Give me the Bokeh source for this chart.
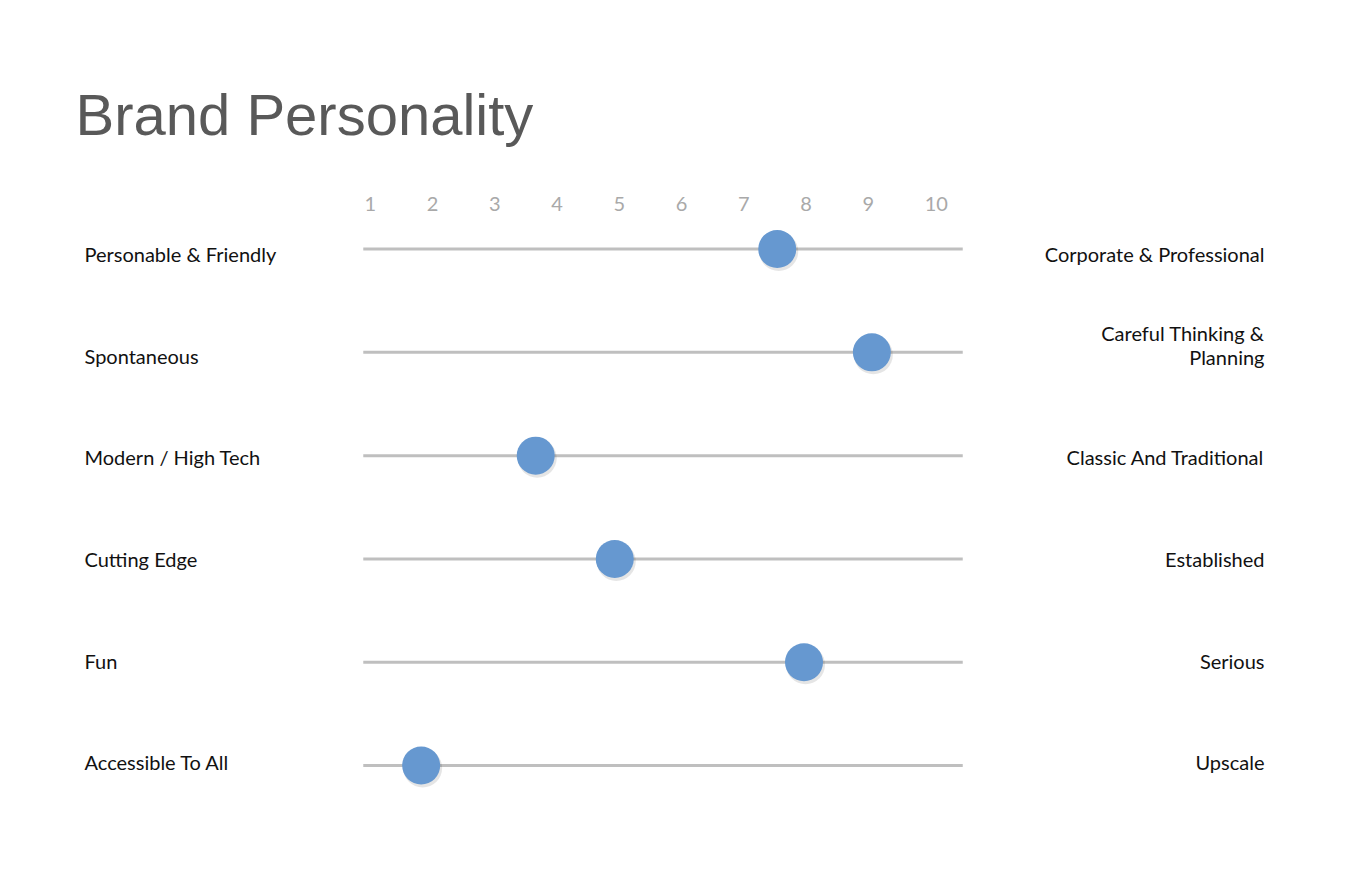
from bokeh.plotting import figure
from bokeh.models import Range1d
from bokeh.embed import file_html
from bokeh.resources import INLINE
from bokeh.core.properties import value

# ---- data ----
title = "Brand Personality"
ticks = [1, 2, 3, 4, 5, 6, 7, 8, 9, 10]
tick_labels = [str(t) for t in ticks]
left_labels = ["Personable & Friendly", "Spontaneous", "Modern / High Tech",
               "Cutting Edge", "Fun", "Accessible To All"]
right_labels = ["Corporate & Professional", "Careful Thinking &\nPlanning",
                "Classic And Traditional", "Established", "Serious", "Upscale"]
scores = [7.55, 9.07, 3.67, 4.94, 7.98, 1.83]
scale_min, scale_max = 0.9, 10.53

# ---- layout helpers (canvas pixel -> data) ----
W, H = 1342, 872
XS = 62.25          # px per scale unit
YS = 103.29         # px per row
X0 = 1 - 369 / XS   # data x at canvas left
Y0 = -248.56 / YS   # data y at canvas top
def dx(px): return X0 + px / XS
def dy(py): return Y0 + py / YS

rows = list(range(len(left_labels)))

p = figure(width=W, height=H, output_backend="svg", toolbar_location=None,
           x_range=Range1d(X0, X0 + W / XS), y_range=Range1d(Y0 + H / YS, Y0),
           x_axis_location=None, y_axis_location=None, min_border=0)
p.grid.visible = False
p.outline_line_color = None
p.background_fill_color = "white"
p.border_fill_color = "white"

# title
p.text(x=[dx(75)], y=[dy(114)], text=[title], text_font=value("Liberation Sans"),
       text_font_size="58px", text_color="#595959", text_baseline="alphabetic",
       text_align="left")

# scale numbers
p.text(x=ticks, y=[dy(203.5)] * len(ticks), text=tick_labels, text_font=value("Lato"),
       text_font_size="20px", text_color="#a9a9a9", text_baseline="middle",
       text_align="left", x_offset=-5)

# track lines
p.segment(x0=[scale_min] * len(rows), x1=[scale_max] * len(rows), y0=rows, y1=rows,
          line_color="#bfbfbf", line_width=3)

# dot shadows and dots
p.scatter(x=[s + 1.5 / XS for s in scores], y=[r + 2.5 / YS for r in rows], size=39,
          fill_color="#000000", fill_alpha=0.10, line_color=None)
p.scatter(x=scores, y=rows, size=38, fill_color="#6698d0", line_color=None)

# side labels
lab_y = [r + (5.1 - 1.7 * r) / YS for r in rows]
right_off = [-11 if "\n" in t else 0 for t in right_labels]
p.text(x=[dx(84)] * len(rows), y=lab_y, text=left_labels, text_font=value("Lato"),
       text_font_size="20px", text_color="#111111", text_baseline="middle",
       text_align="left")
p.text(x=[dx(1264)] * len(rows), y=lab_y, text=right_labels, text_font=value("Lato"),
       text_font_size="20px", text_color="#111111", text_baseline="middle",
       text_align="right", text_line_height=1.0, y_offset=right_off)

open("out.html", "w").write(file_html(p, INLINE))
